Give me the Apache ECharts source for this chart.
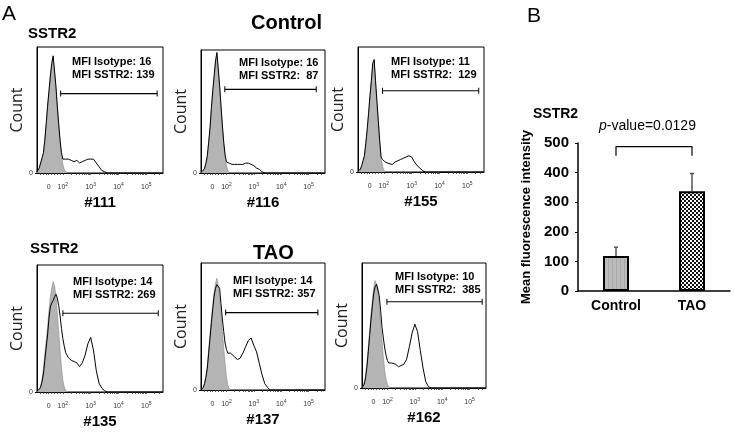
<!DOCTYPE html>
<html><head><meta charset="utf-8">
<script src="https://cdn.jsdelivr.net/npm/echarts@6/dist/echarts.min.js"></script>
<style>html,body{margin:0;padding:0;background:#fff}#c{width:734px;height:435px}</style>
</head><body><div id="c"></div>
<script>
// ---------- Panel A: flow cytometry histograms ----------
// x positions in decades of fluorescence (biexponential display; 2 = 10^2 ...)
const fluorPos = [1.07,1.10,1.15,1.20,1.25,1.30,1.35,1.40,1.45,1.50,1.55,1.60,1.65,1.70,1.75,1.80,1.85,1.90,1.95,2.00,2.05,2.10,2.15,2.20,2.30,2.40,2.50,2.60,2.70,2.80,2.90,3.00,3.10,3.20,3.30,3.40,3.50,3.60,3.70,3.80,4.00,5.60];
const tickLabelPos = [1.49, 2, 3, 4, 5];

// normalised counts (fraction of box height)
const iso111  = [0,0.01,0.03,0.07,0.11,0.15,0.25,0.38,0.52,0.64,0.76,0.86,0.92,0.80,0.68,0.52,0.38,0.24,0.14,0.07,0.03,0.01,0,0, 0,0,0,0,0,0,0,0,0,0,0,0,0,0,0,0, 0,0];
const sstr111 = [0.01,0.02,0.04,0.08,0.12,0.16,0.26,0.39,0.53,0.65,0.77,0.87,0.93,0.81,0.69,0.53,0.39,0.26,0.16,0.11,0.10,0.11,0.11,0.11, 0.10,0.09,0.10,0.08,0.09,0.10,0.11,0.11,0.11,0.08,0.05,0.02,0.01,0,0,0, 0,0];
const iso116  = [0,0,0.01,0.03,0.07,0.13,0.24,0.36,0.52,0.66,0.78,0.90,0.97,0.84,0.70,0.54,0.38,0.24,0.14,0.06,0.02,0,0,0, 0,0,0,0,0,0,0,0,0,0,0,0,0,0,0,0, 0,0];
const sstr116 = [0.01,0.01,0.02,0.04,0.08,0.14,0.25,0.37,0.53,0.67,0.79,0.91,0.98,0.85,0.71,0.55,0.39,0.25,0.15,0.09,0.08,0.08,0.07,0.07, 0.07,0.07,0.07,0.07,0.08,0.08,0.07,0.06,0.04,0.03,0.01,0,0,0,0,0, 0,0];
const iso155  = [0,0,0.01,0.04,0.08,0.12,0.22,0.33,0.46,0.60,0.72,0.86,0.89,0.72,0.56,0.40,0.24,0.11,0.05,0.01,0,0,0,0, 0,0,0,0,0,0,0,0,0,0,0,0,0,0,0,0, 0,0];
const sstr155 = [0.01,0.01,0.02,0.05,0.09,0.13,0.23,0.34,0.47,0.61,0.73,0.87,0.90,0.73,0.57,0.41,0.25,0.12,0.10,0.09,0.08,0.08,0.07,0.07, 0.06,0.08,0.09,0.10,0.11,0.12,0.13,0.12,0.08,0.05,0.03,0.01,0,0,0,0, 0,0];
const iso135  = [0,0,0.01,0.04,0.10,0.18,0.30,0.40,0.51,0.64,0.75,0.82,0.87,0.84,0.76,0.62,0.47,0.33,0.20,0.09,0.04,0.01,0,0, 0,0,0,0,0,0,0,0,0,0,0,0,0,0,0,0, 0,0];
const sstr135 = [0.01,0.01,0.02,0.04,0.08,0.14,0.25,0.35,0.45,0.58,0.67,0.70,0.72,0.75,0.77,0.74,0.68,0.60,0.50,0.42,0.36,0.31,0.29,0.27, 0.25,0.24,0.23,0.20,0.23,0.29,0.38,0.43,0.33,0.17,0.07,0.03,0.01,0,0,0, 0,0];
const iso137  = [0,0,0.01,0.05,0.11,0.19,0.32,0.44,0.56,0.67,0.77,0.84,0.88,0.82,0.72,0.60,0.46,0.33,0.21,0.10,0.04,0.01,0,0, 0,0,0,0,0,0,0,0,0,0,0,0,0,0,0,0, 0,0];
const sstr137 = [0,0.01,0.02,0.05,0.10,0.17,0.29,0.41,0.53,0.64,0.74,0.80,0.83,0.84,0.80,0.68,0.56,0.46,0.37,0.32,0.29,0.28,0.29,0.29, 0.26,0.24,0.25,0.29,0.34,0.39,0.41,0.35,0.30,0.21,0.12,0.05,0.02,0,0,0, 0,0];
const iso162  = [0,0.01,0.04,0.10,0.20,0.33,0.46,0.59,0.70,0.81,0.86,0.87,0.80,0.66,0.52,0.38,0.25,0.14,0.07,0.03,0.01,0,0,0, 0,0,0,0,0,0,0,0,0,0,0,0,0,0,0,0, 0,0];
const sstr162 = [0,0.01,0.03,0.08,0.17,0.29,0.42,0.55,0.66,0.76,0.81,0.83,0.84,0.74,0.62,0.49,0.40,0.32,0.26,0.22,0.20,0.20,0.20,0.19, 0.19,0.17,0.18,0.19,0.23,0.33,0.44,0.51,0.45,0.30,0.16,0.05,0.01,0,0,0, 0,0];

const sampleIds   = ['#111', '#116', '#155', '#135', '#137', '#162'];
const isoCurves   = [iso111, iso116, iso155, iso135, iso137, iso162];
const sstrCurves  = [sstr111, sstr116, sstr155, sstr135, sstr137, sstr162];
const mfiIsotype  = [16, 16, 11, 14, 14, 10];
const mfiSSTR2    = [139, 87, 129, 269, 357, 385];
const gateStart   = [1.92, 1.94, 1.95, 2.00, 1.97, 1.98];
const gateEnd     = [5.39, 5.28, 5.41, 5.43, 5.34, 5.46];
const gateLevel   = [0.63, 0.68, 0.65, 0.62, 0.61, 0.69];

// ---------- Panel B: bar chart ----------
const groups   = ['Control', 'TAO'];
const meanMFI  = [118, 337];
const errMFI   = [30, 60];
const bracketLow = 457, bracketHigh = 488;
const yTicksB  = [0, 100, 200, 300, 400, 500];

// ---------- layout ----------
const boxes = [[37,47,126,126],[201,50,124,123],[358,47,126,125],[37,265,126,127],[201,263,124,127],[362,263,124,125]];
const mfiTextPos = [[72,62],[239,63],[391,62],[73,282],[233,281],[395,277]];
const doubleSpace = [false,true,true,false,false,true];

const minorTicks = [1.2,1.3,1.4,1.49,1.6,1.7,1.8,1.9];
for (let d = 2; d <= 5; d++) for (let k = 1; k <= 9; k++) { const v = d + Math.log10(k); if (v < 5.6) minorTicks.push(+v.toFixed(3)); }

function pattern(kind) {
  const c = document.createElement('canvas');
  c.width = 4; c.height = 4;
  const g = c.getContext('2d');
  if (kind === 'stripe') {
    g.fillStyle = '#bcbcbc'; g.fillRect(0,0,4,4);
    g.fillStyle = '#a9a9a9'; g.fillRect(0,0,1,4);
  } else {
    g.fillStyle = '#ffffff'; g.fillRect(0,0,4,4);
    g.fillStyle = '#111111'; g.fillRect(0,0,2,2); g.fillRect(2,2,2,2);
  }
  return { image: c, repeat: 'repeat' };
}

const SANS = "'Liberation Sans', Arial, sans-serif";
const grids = [], xAxes = [], yAxes = [], series = [], graphics = [];

boxes.forEach((b, i) => {
  grids.push({ left: b[0], top: b[1], width: b[2], height: b[3], show: true, borderColor: '#000', borderWidth: 1, backgroundColor: 'transparent' });
  xAxes.push({
    gridIndex: i, type: 'value', min: 1.07, max: 5.6,
    name: sampleIds[i], nameLocation: 'middle', nameGap: 22,
    nameTextStyle: { fontFamily: SANS, fontWeight: 'bold', fontSize: 15, color: '#000' },
    axisLine: { show: true, onZero: false, lineStyle: { color: '#000', width: 1 } },
    axisTick: { show: true, customValues: minorTicks, length: 2, lineStyle: { color: '#333', width: 0.8 } },
    axisLabel: {
      customValues: tickLabelPos, margin: 9,
      formatter: v => v < 1.9 ? '{b|0}' : '{b|10}{s|' + Math.round(v) + '}',
      rich: { b: { fontSize: 7, color: '#333', fontFamily: SANS, lineHeight: 10 }, s: { fontSize: 5, color: '#333', fontFamily: SANS, lineHeight: 10, verticalAlign: 'top', padding: [0,0,5,0] } }
    },
    splitLine: { show: false }
  });
  yAxes.push({
    gridIndex: i, type: 'value', min: 0, max: 1,
    name: 'Count', nameLocation: 'middle', nameGap: 9,
    nameTextStyle: { fontFamily: "'Open Sans', sans-serif", fontSize: 16, color: '#222' },
    axisLine: { show: true, lineStyle: { color: '#000', width: 1 } },
    axisTick: { show: true, customValues: [0], length: 2, lineStyle: { color: '#000' } },
    axisLabel: { customValues: [0], fontSize: 7, color: '#333', margin: 4, fontFamily: SANS },
    splitLine: { show: false }
  });
  series.push({
    type: 'line', xAxisIndex: i, yAxisIndex: i, showSymbol: false, silent: true, z: 2,
    data: fluorPos.map((x, j) => [x, isoCurves[i][j]]),
    lineStyle: { color: '#8a8a8a', width: 0.6 },
    areaStyle: { color: '#b4b4b4', opacity: 1 }
  });
  series.push({
    type: 'line', xAxisIndex: i, yAxisIndex: i, showSymbol: false, silent: true, z: 3,
    data: fluorPos.map((x, j) => [x, sstrCurves[i][j]]),
    lineStyle: { color: '#000', width: 1 }
  });
  series.push({
    type: 'line', xAxisIndex: i, yAxisIndex: i, silent: true, z: 3,
    data: [[gateStart[i], gateLevel[i]], [gateEnd[i], gateLevel[i]]],
    symbol: 'rect', symbolSize: [1, 6], showSymbol: true,
    itemStyle: { color: '#000' }, lineStyle: { color: '#000', width: 1.2 }
  });
  const sp = doubleSpace[i] ? '  ' : ' ';
  graphics.push({
    type: 'text', left: mfiTextPos[i][0], top: mfiTextPos[i][1] - 7,
    style: { text: 'MFI Isotype: ' + mfiIsotype[i] + '\nMFI SSTR2:' + sp + mfiSSTR2[i], font: 'bold 11px ' + SANS, fill: '#000', lineHeight: 13.5 }
  });
});

// bar chart grid
const bi = boxes.length;
grids.push({ left: 578, top: 143, right: 4, bottom: 144 });
xAxes.push({
  gridIndex: bi, type: 'category', data: groups,
  axisLine: { show: true, lineStyle: { color: '#000', width: 1.5 } },
  axisTick: { show: false },
  axisLabel: { fontFamily: SANS, fontWeight: 'bold', fontSize: 14, color: '#000', margin: 8 }
});
yAxes.push({
  gridIndex: bi, type: 'value', min: yTicksB[0], max: yTicksB[yTicksB.length - 1], interval: 100,
  name: 'Mean fluorescence intensity', nameLocation: 'middle', nameGap: 45,
  nameTextStyle: { fontFamily: SANS, fontWeight: 'bold', fontSize: 13, color: '#000' },
  axisLine: { show: true, lineStyle: { color: '#000', width: 1.5 } },
  axisTick: { show: true, length: 3, lineStyle: { color: '#000' } },
  axisLabel: { fontFamily: SANS, fontWeight: 'bold', fontSize: 15, color: '#000', margin: 9 },
  splitLine: { show: false }
});
series.push({
  type: 'custom', xAxisIndex: bi, yAxisIndex: bi, z: 1, silent: true,
  data: groups.map((g, i) => [i, meanMFI[i], errMFI[i]]),
  encode: { x: 0, y: 1 },
  renderItem: (params, api) => {
    const x = api.value(0);
    const base = api.coord([x, api.value(1)]);
    const top = api.coord([x, api.value(1) + api.value(2)]);
    return { type: 'group', children: [
      { type: 'line', shape: { x1: base[0], y1: base[1], x2: top[0], y2: top[1] }, style: { stroke: '#555', lineWidth: 1.5 } },
      { type: 'line', shape: { x1: top[0] - 2, y1: top[1], x2: top[0] + 2, y2: top[1] }, style: { stroke: '#555', lineWidth: 1.5 } }
    ] };
  }
});
series.push({
  type: 'bar', xAxisIndex: bi, yAxisIndex: bi, barWidth: 26, z: 2, silent: true,
  data: meanMFI.map((v, i) => ({ value: v, itemStyle: { color: pattern(i === 0 ? 'stripe' : 'checker'), borderColor: '#000', borderWidth: 2 } }))
});
series.push({
  type: 'line', xAxisIndex: bi, yAxisIndex: bi, showSymbol: false, silent: true, z: 3,
  data: [[0, bracketLow], [0, bracketHigh], [1, bracketHigh], [1, bracketLow]],
  lineStyle: { color: '#000', width: 1.2 }
});

// titles / labels
graphics.push(
  { type: 'text', left: 2, top: 4, style: { text: 'A', font: '21px ' + SANS, fill: '#000' } },
  { type: 'text', left: 527, top: 6, style: { text: 'B', font: '21px ' + SANS, fill: '#000' } },
  { type: 'text', left: 251, top: 13, style: { text: 'Control', font: 'bold 20px ' + SANS, fill: '#000', textAlign: 'center', textVerticalAlign: 'middle' } },
  { type: 'text', left: 253, top: 243, style: { text: 'TAO', font: 'bold 20px ' + SANS, fill: '#000', textAlign: 'center', textVerticalAlign: 'middle' } },
  { type: 'text', left: 28, top: 26, style: { text: 'SSTR2', font: 'bold 15px ' + SANS, fill: '#000' } },
  { type: 'text', left: 30, top: 241, style: { text: 'SSTR2', font: 'bold 15px ' + SANS, fill: '#000' } },
  { type: 'text', left: 533, top: 107, style: { text: 'SSTR2', font: 'bold 14px ' + SANS, fill: '#000' } },
  { type: 'text', left: 599, top: 119, style: { text: '{i|p}{n|-value=0.0129}', rich: { i: { font: 'italic 14px ' + SANS, fill: '#000' }, n: { font: '14px ' + SANS, fill: '#000' } } } }
);

const chart = echarts.init(document.getElementById('c'), null, { renderer: 'canvas' });
chart.setOption({
  animation: false, backgroundColor: '#fff',
  grid: grids, xAxis: xAxes, yAxis: yAxes, series: series, graphic: graphics
});
</script></body></html>
